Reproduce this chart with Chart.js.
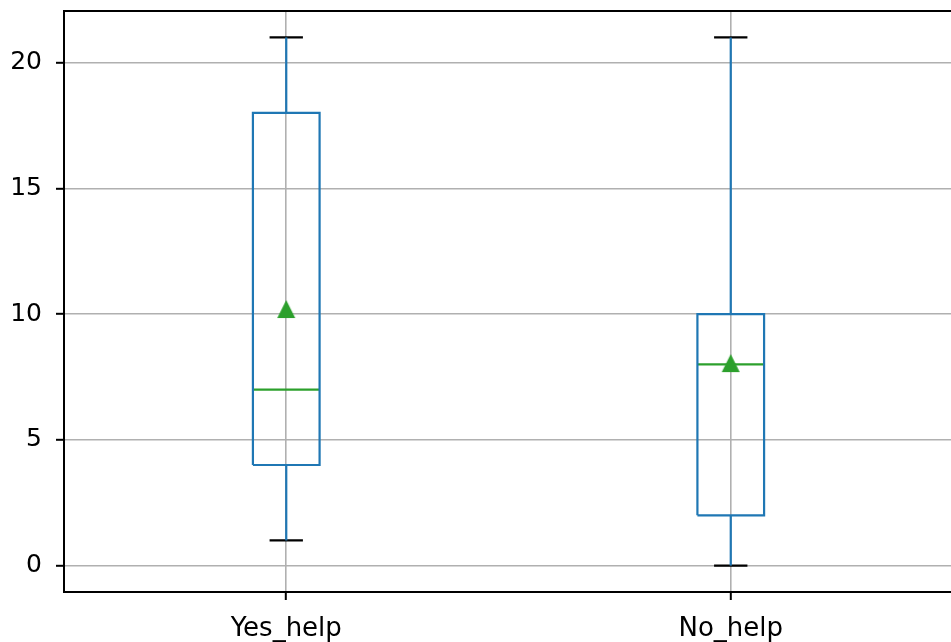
<!DOCTYPE html>
<html lang="en">
<head>
  <meta charset="UTF-8">
  <title>Yes_help / No_help boxplot</title>
  <script src="https://cdn.jsdelivr.net/npm/chart.js"></script>
  <style>
    html, body {
      margin: 0;
      padding: 0;
      background: #ffffff;
      overflow: hidden;
    }
    .chart-container {
      width: 964px;
      height: 642px;
    }
  </style>
</head>
<body>
  <div class="chart-container">
    <canvas id="boxChart" width="964" height="642"></canvas>
  </div>

  <script>
    // box statistics
    const categories = ['Yes_help', 'No_help'];
    const whiskerLow = [1, 0];
    const q1 = [4, 2];
    const median = [7, 8];
    const q3 = [18, 10];
    const whiskerHigh = [21, 21];
    const means = [10.2, 8.05];
    const yTicks = [0, 5, 10, 15, 20];

    const BLUE = '#1f77b4';
    const GREEN = '#2ca02c';
    const BOX_HALF = 0.075;
    const CAP_HALF = 0.0375;

    function seg(points, color) {
      return {
        type: 'scatter',
        data: points,
        showLine: true,
        borderColor: color,
        borderWidth: 2.2,
        pointRadius: 0,
        pointHoverRadius: 0,
        fill: false
      };
    }

    // triangle marker centred on its own box, like matplotlib '^'
    const tri = document.createElement('canvas');
    tri.width = 20; tri.height = 20;
    const tctx = tri.getContext('2d');
    tctx.fillStyle = GREEN;
    tctx.beginPath();
    tctx.moveTo(10, 1);
    tctx.lineTo(19, 19);
    tctx.lineTo(1, 19);
    tctx.closePath();
    tctx.fill();

    const datasets = [];
    categories.forEach((c, i) => {
      const x = i + 1;
      datasets.push(seg([{x: x, y: whiskerLow[i]}, {x: x, y: q1[i]}], BLUE));
      datasets.push(seg([{x: x, y: q3[i]}, {x: x, y: whiskerHigh[i]}], BLUE));
      datasets.push(seg([{x: x - CAP_HALF, y: whiskerLow[i]}, {x: x + CAP_HALF, y: whiskerLow[i]}], '#000000'));
      datasets.push(seg([{x: x - CAP_HALF, y: whiskerHigh[i]}, {x: x + CAP_HALF, y: whiskerHigh[i]}], '#000000'));
      datasets.push(seg([
        {x: x - BOX_HALF, y: q1[i]}, {x: x + BOX_HALF, y: q1[i]},
        {x: x + BOX_HALF, y: q3[i]}, {x: x - BOX_HALF, y: q3[i]},
        {x: x - BOX_HALF, y: q1[i]}
      ], BLUE));
      datasets.push(seg([{x: x - BOX_HALF, y: median[i]}, {x: x + BOX_HALF, y: median[i]}], GREEN));
    });
    datasets.push({
      type: 'scatter',
      data: means.map((m, i) => ({x: i + 1, y: m})),
      pointStyle: tri,
      pointRadius: 10,
      showLine: false
    });

    const frame = {
      id: 'frame',
      afterDatasetsDraw(chart) {
        const a = chart.chartArea;
        const ctx = chart.ctx;
        ctx.save();
        ctx.strokeStyle = '#000000';
        ctx.lineWidth = 2;
        ctx.strokeRect(a.left, a.top, a.right - a.left, a.bottom - a.top);
        ctx.restore();
      }
    };

    const ctx = document.getElementById('boxChart').getContext('2d');
    new Chart(ctx, {
      type: 'scatter',
      data: { datasets: datasets },
      plugins: [frame],
      options: {
        responsive: false,
        animation: false,
        events: [],
        layout: { padding: { top: 9, right: 6, left: 0, bottom: 0 } },
        plugins: {
          legend: { display: false },
          tooltip: { enabled: false }
        },
        scales: {
          x: {
            type: 'linear',
            min: 0.5,
            max: 2.5,
            afterBuildTicks: s => { s.ticks = categories.map((c, i) => ({value: i + 1})); },
            afterFit: s => { s.height = 50; s.paddingLeft = 0; s.paddingRight = 0; },
            border: { display: false },
            grid: { color: '#b0b0b0', lineWidth: 1.6, tickColor: '#000000', tickWidth: 2, tickLength: 8 },
            ticks: {
              callback: v => categories[v - 1],
              color: '#000000',
              padding: 14,
              maxRotation: 0,
              font: { family: 'DejaVu Sans', size: 26 }
            }
          },
          y: {
            min: -1.05,
            max: 22.05,
            afterBuildTicks: s => { s.ticks = yTicks.map(v => ({value: v})); },
            afterFit: s => { s.width = 64; s.paddingTop = 0; s.paddingBottom = 0; },
            border: { display: false },
            grid: { color: '#b0b0b0', lineWidth: 1.6, tickColor: '#000000', tickWidth: 2, tickLength: 8 },
            ticks: {
              color: '#000000',
              padding: 14,
              font: { family: 'DejaVu Sans', size: 25 }
            }
          }
        }
      }
    });
  </script>
</body>
</html>
